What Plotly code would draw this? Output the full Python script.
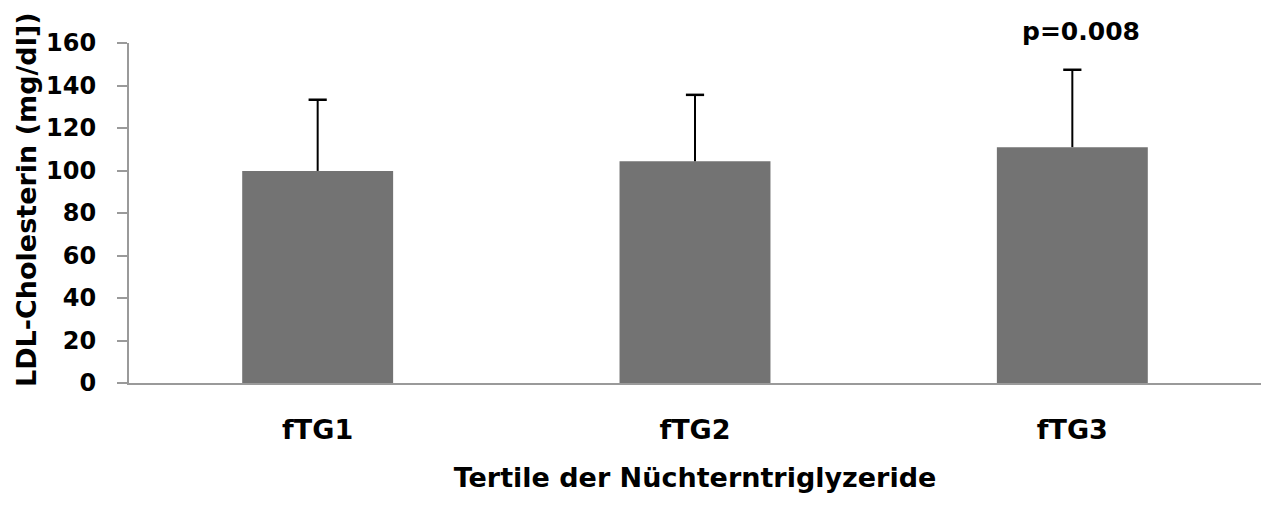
import plotly.graph_objects as go

categories = ["fTG1", "fTG2", "fTG3"]
means = [99.8, 104.3, 111.0]
sd_upper = [33.5, 31.3, 36.4]
y_ticks = [0, 20, 40, 60, 80, 100, 120, 140, 160]
p_label = "p=0.008"

FONT = "DejaVu Sans"
AXIS_COLOR = "#9a9a9a"

upper_ends = [m + s for m, s in zip(means, sd_upper)]

fig = go.Figure()
fig.add_trace(go.Bar(
    x=categories,
    y=means,
    marker=dict(color="#737373", line=dict(width=0)),
    showlegend=False,
))
# whisker stems (no caps)
fig.add_trace(go.Scatter(
    x=categories, y=means, mode="markers",
    marker=dict(size=0.1, color="rgba(0,0,0,0)"),
    error_y=dict(type="data", symmetric=False, array=sd_upper, arrayminus=[0, 0, 0],
                 color="black", thickness=2, width=0),
    showlegend=False, hoverinfo="skip",
))
# top caps
fig.add_trace(go.Scatter(
    x=categories, y=upper_ends, mode="markers",
    marker=dict(symbol="line-ew", size=13, line=dict(color="black", width=2.5)),
    showlegend=False, hoverinfo="skip",
))

fig.add_annotation(
    x=categories[2], y=1, xref="x", yref="paper",
    text=p_label, showarrow=False,
    xshift=9, yshift=12, yanchor="middle",
    font=dict(family=FONT, size=25, color="black", weight="bold"),
)

fig.add_annotation(
    x=0, y=0.5, xref="paper", yref="paper",
    text="LDL-Cholesterin (mg/dl])", textangle=-90, showarrow=False,
    xshift=-103, yshift=13, xanchor="center", yanchor="middle",
    font=dict(family=FONT, size=27, color="black", weight="bold"),
)

fig.update_layout(
    width=1261, height=515,
    margin=dict(l=129, r=0, t=43, b=132),
    paper_bgcolor="white", plot_bgcolor="white",
    bargap=0.6,
    font=dict(family=FONT, color="black"),
    xaxis=dict(
        showline=True, linecolor=AXIS_COLOR, linewidth=2,
        ticks="", showgrid=False, zeroline=False,
        tickfont=dict(family=FONT, size=27, color="black", weight="bold"),
        ticklabelstandoff=22,
        title=dict(text="Tertile der Nüchterntriglyzeride",
                   font=dict(family=FONT, size=27, color="black", weight="bold"), standoff=24),
    ),
    yaxis=dict(
        range=[0, 160], tickvals=y_ticks,
        showline=True, linecolor=AXIS_COLOR, linewidth=2,
        ticks="outside", ticklen=10, tickwidth=1.5, tickcolor=AXIS_COLOR,
        showgrid=False, zeroline=False,
        tickfont=dict(family=FONT, size=24, color="black", weight="bold"),
        ticklabelstandoff=16,
    ),
)

fig.write_html("out.html")
